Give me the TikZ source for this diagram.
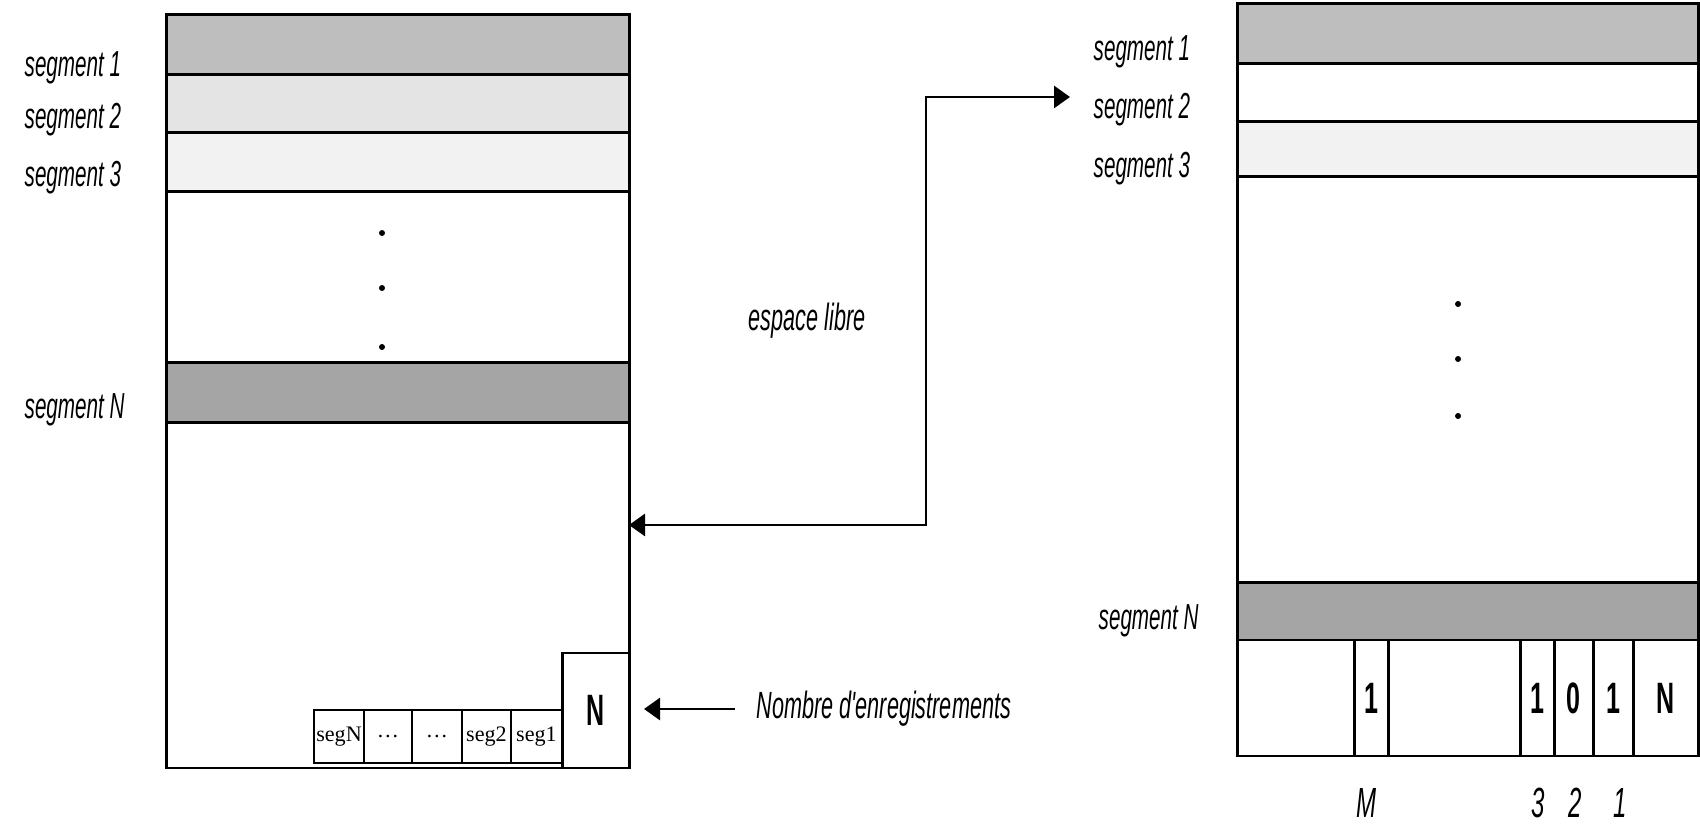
\documentclass[tikz,border=0pt]{standalone}
\usepackage{fontspec}
\setmainfont{Liberation Serif}
\newfontfamily\etroite[FakeStretch=0.57]{Liberation Sans}
\usetikzlibrary{arrows.meta, positioning}

\definecolor{gris1}{RGB}{190,190,190}
\definecolor{gris2}{RGB}{228,228,228}
\definecolor{gris3}{RGB}{242,242,242}
\definecolor{grisN}{RGB}{165,165,165}

\begin{document}
\begin{tikzpicture}[
    x=0.1mm, y=-0.1mm,
    bande/.style={rectangle, draw=black, line width=0.85pt, minimum width=46.3mm, inner sep=0pt, outer sep=0pt},
    bandeR/.style={bande, minimum width=46.1mm},
    etiq/.style={inner sep=0pt, anchor=west, font=\etroite\itshape\fontsize{10.3}{12}\selectfont},
    grande/.style={inner sep=0pt, font=\etroite\itshape\fontsize{10.8}{12}\selectfont},
    petit/.style={rectangle, draw=black, line width=0.6pt, minimum height=5.3mm, inner sep=0pt, outer sep=0pt, font=\fontsize{6.3}{7}\selectfont},
    bit/.style={rectangle, draw=black, line width=0.85pt, minimum height=11.6mm, inner sep=0pt, outer sep=0pt, font=\etroite\bfseries\fontsize{12.5}{14}\selectfont},
    indice/.style={inner sep=0pt, font=\etroite\itshape\fontsize{12}{14}\selectfont},
    pointe/.style={-{Triangle[length=1.6mm, width=2.2mm]}, line width=0.8pt},
    fleche/.style={{Triangle[length=1.6mm, width=2.2mm]}-{Triangle[length=1.6mm, width=2.2mm]}, line width=0.8pt}
  ]
    \useasboundingbox (0,0) rectangle (1700,826);

    % page de gauche
    \node[bande, fill=gris1, minimum height=6mm] (seg1L) at (397.5,45) {};
    \node[bande, fill=gris2, minimum height=5.8mm, below=0pt of seg1L] (seg2L) {};
    \node[bande, fill=gris3, minimum height=5.9mm, below=0pt of seg2L] (seg3L) {};
    \node[bande, minimum height=17.1mm, below=0pt of seg3L] (pointsL) {};
    \node[bande, fill=grisN, minimum height=6mm, below=0pt of pointsL] (segNL) {};
    \node[bande, minimum height=34.5mm, below=0pt of segNL] (libreL) {};
    \node[bit, minimum width=6.7mm, minimum height=11.5mm, anchor=south east] (nbL) at (libreL.south east) {N};

    \node[petit, minimum width=5.1mm, anchor=south east] (s1) at ([yshift=0.5mm]nbL.south west) {seg1};
    \node[petit, minimum width=4.9mm, left=0pt of s1] (s2) {seg2};
    \node[petit, minimum width=5mm, left=0pt of s2] (s3) {\dots};
    \node[petit, minimum width=4.8mm, left=0pt of s3] (s4) {\dots};
    \node[petit, minimum width=5mm, left=0pt of s4] (sN) {segN};

    \foreach \y in {233,288,347} \fill (382,\y) circle (0.3mm);

    \node[etiq] (l1L) at (24,68) {segment 1};
    \node[etiq] (l2L) at (24,120) {segment 2};
    \node[etiq] (l3L) at (24,178) {segment 3};
    \node[etiq] (lNL) at (24,410) {segment N};

    % page de droite
    \node[bandeR, fill=gris1, minimum height=6mm] (seg1R) at (1467.5,34) {};
    \node[bandeR, minimum height=5.8mm, below=0pt of seg1R] (seg2R) {};
    \node[bandeR, fill=gris3, minimum height=5.5mm, below=0pt of seg2R] (seg3R) {};
    \node[bandeR, minimum height=40.6mm, below=0pt of seg3R] (pointsR) {};
    \node[bandeR, fill=grisN, minimum height=5.7mm, below=0pt of pointsR] (segNR) {};

    \node[bit, minimum width=11.7mm, anchor=north west] (vide1) at (segNR.south west) {};
    \node[bit, minimum width=3.4mm, right=0pt of vide1] (bM) {1};
    \node[bit, minimum width=13.2mm, right=0pt of bM] (vide2) {};
    \node[bit, minimum width=3.4mm, right=0pt of vide2] (b3) {1};
    \node[bit, minimum width=3.9mm, right=0pt of b3] (b2) {0};
    \node[bit, minimum width=4mm, right=0pt of b2] (b1) {1};
    \node[bit, minimum width=6.5mm, right=0pt of b1] (nbR) {N};

    \foreach \y in {304,359,416} \fill (1458,\y) circle (0.3mm);

    \node[etiq] (l1R) at (1093,52) {segment 1};
    \node[etiq] (l2R) at (1093,110) {segment 2};
    \node[etiq] (l3R) at (1093,169) {segment 3};
    \node[etiq] (lNR) at (1098,621) {segment N};

    \node[indice] (iM) at (1366,803) {M};
    \node[indice] (i3) at (1538,803) {3};
    \node[indice] (i2) at (1575,803) {2};
    \node[indice] (i1) at (1620,803) {1};

    % espace libre et compteur
    \node[grande] (libre) at (807,321) {espace libre};
    \node[grande, anchor=west] (nombre) at (756,709) {Nombre d'enregistrements};

    \coordinate (entree) at (629,525);
    \coordinate (coude) at (926,525);
    \draw[fleche, shorten >=2.3mm] (entree) -- (coude) |- ([yshift=1.3mm]l2R.west);
    \draw[pointe, shorten <=2.1mm, shorten >=1.5mm] (nombre.west) -- (nombre.west -| nbL.east);
\end{tikzpicture}
\end{document}
